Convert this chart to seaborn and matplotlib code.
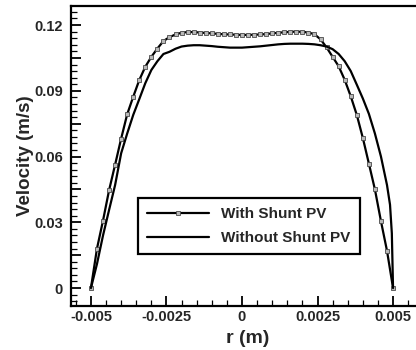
import numpy as np
import pandas as pd
import matplotlib
matplotlib.use("Agg")
import matplotlib.pyplot as plt
import seaborn as sns
from matplotlib.ticker import MultipleLocator

# ---- data ----
r_with = [-0.0050, -0.0048, -0.0046, -0.0044, -0.0042, -0.0040, -0.0038, -0.0036, -0.0034,
          -0.0032, -0.0030, -0.0028, -0.0026, -0.0024, -0.0022, -0.0020, -0.0018, -0.0016,
          -0.0014, -0.0012, -0.0010, -0.0008, -0.0006, -0.0004, -0.0002, 0.0000, 0.0002,
          0.0004, 0.0006, 0.0008, 0.0010, 0.0012, 0.0014, 0.0016, 0.0018, 0.0020, 0.0022,
          0.0024, 0.0026, 0.0028, 0.0030, 0.0032, 0.0034, 0.0036, 0.0038, 0.0040, 0.0042,
          0.0044, 0.0046, 0.0048, 0.0050]
v_with = [0.0, 0.0180, 0.0308, 0.0446, 0.0563, 0.0682, 0.0793, 0.0873, 0.0949,
          0.1010, 0.1055, 0.1093, 0.1127, 0.1145, 0.1157, 0.1165, 0.1168, 0.1168,
          0.1166, 0.1164, 0.1162, 0.1160, 0.1158, 0.1157, 0.1156, 0.1155, 0.1155,
          0.1156, 0.1157, 0.1159, 0.1162, 0.1165, 0.1167, 0.1169, 0.1170, 0.1169, 0.1166,
          0.1158, 0.1135, 0.1098, 0.1055, 0.1012, 0.0950, 0.0875, 0.0790, 0.0685, 0.0568,
          0.0450, 0.0305, 0.0170, 0.0]

r_without = [-0.0050, -0.0048, -0.0046, -0.0044, -0.0042, -0.0040, -0.0038, -0.0036, -0.0034,
             -0.0032, -0.0030, -0.0028, -0.0026, -0.0024, -0.0022, -0.0020, -0.0018, -0.0016,
             -0.0014, -0.0012, -0.0010, -0.0008, -0.0006, -0.0004, -0.0002, 0.0000, 0.0002,
             0.0004, 0.0006, 0.0008, 0.0010, 0.0012, 0.0014, 0.0016, 0.0018, 0.0020, 0.0022,
             0.0024, 0.0026, 0.0028, 0.0030, 0.0032, 0.0034, 0.0036, 0.0038, 0.0040, 0.0042,
             0.0044, 0.0046, 0.0048, 0.0049, 0.00496, 0.0050]
v_without = [0.0, 0.0110, 0.0240, 0.0356, 0.0470, 0.0615, 0.0705, 0.0790, 0.0862,
             0.0935, 0.0995, 0.1035, 0.1068, 0.1078, 0.1092, 0.1102, 0.1106, 0.1108,
             0.1108, 0.1106, 0.1104, 0.1101, 0.1099, 0.1097, 0.1097, 0.1097, 0.1099,
             0.1101, 0.1103, 0.1106, 0.1109, 0.1112, 0.1114, 0.1115, 0.1115, 0.1115, 0.1114,
             0.1112, 0.1108, 0.1102, 0.1090, 0.1068, 0.1035, 0.0990, 0.0928, 0.0865, 0.0795,
             0.0705, 0.0600, 0.0470, 0.0380, 0.0250, 0.0]

series_labels = ["With Shunt PV", "Without Shunt PV"]
x_ticks = [-0.005, -0.0025, 0.0, 0.0025, 0.005]
x_tick_labels = ["-0.005", "-0.0025", "0", "0.0025", "0.005"]
y_ticks = [0.0, 0.015, 0.03, 0.045, 0.06, 0.075, 0.09, 0.105, 0.12]
y_tick_labels = ["0", "", "0.03", "", "0.06", "", "0.09", "", "0.12"]
x_label = "r (m)"
y_label = "Velocity (m/s)"

# ---- style ----
sns.set_style("white")
plt.rcParams["font.family"] = ["Liberation Sans", "DejaVu Sans"]
plt.rcParams["font.weight"] = "bold"

fig = plt.figure(figsize=(4.16, 3.5), dpi=100)
ax = fig.add_axes([71 / 416, 44 / 350, 345 / 416, 300 / 350])

df_with = pd.DataFrame({"r": r_with, "v": v_with})
df_without = pd.DataFrame({"r": r_without, "v": v_without})

sns.lineplot(data=df_with, x="r", y="v", ax=ax, color="black", lw=1.6,
             marker="s", markersize=2.8, markerfacecolor="#b8b8b8",
             markeredgecolor="#4a4a4a", markeredgewidth=0.6,
             estimator=None, sort=False, label=series_labels[0])
sns.lineplot(data=df_without, x="r", y="v", ax=ax, color="black", lw=1.6,
             estimator=None, sort=False, label=series_labels[1])

ax.set_xlim(-0.00566, 0.00576)
ax.set_ylim(-0.0082, 0.1287)

ax.set_xticks(x_ticks, x_tick_labels)
ax.set_yticks(y_ticks, y_tick_labels)
ax.xaxis.set_minor_locator(MultipleLocator(0.0005))
ax.yaxis.set_minor_locator(MultipleLocator(0.003))

ax.tick_params(axis="both", which="both", bottom=True, left=True, top=False, right=False)
ax.tick_params(axis="both", which="major", direction="in", length=7, width=1.3,
               labelsize=10.5, color="black")
ax.tick_params(axis="both", which="minor", direction="in", length=4, width=0.9,
               color="black")
ax.tick_params(axis="x", which="major", pad=3)
ax.tick_params(axis="y", which="major", pad=6)
for lab in ax.get_xticklabels() + ax.get_yticklabels():
    lab.set_fontweight("bold")

for side in ["left", "bottom", "top"]:
    ax.spines[side].set_visible(True)
    ax.spines[side].set_color("black")
    ax.spines[side].set_linewidth(1.6)
ax.spines["right"].set_visible(False)

ax.set_xlabel(x_label, fontsize=14, fontweight="bold")
ax.set_ylabel(y_label, fontsize=13.5, fontweight="bold")
ax.xaxis.set_label_coords(0.513, -0.08)
ax.yaxis.set_label_coords(-0.106, 0.5)

leg = ax.legend(loc="upper left", bbox_to_anchor=(0.194, 0.36), borderaxespad=0,
                frameon=True, fancybox=False, framealpha=1, edgecolor="black",
                prop={"size": 11, "weight": "bold"}, handlelength=4.0,
                handletextpad=0.85, labelspacing=0.62, borderpad=0.62)
leg.get_frame().set_linewidth(1.6)

fig.savefig("out.png", dpi=100)
